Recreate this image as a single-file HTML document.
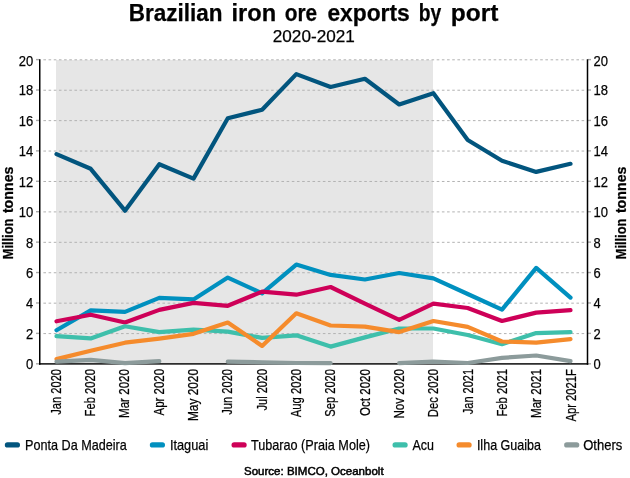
<!DOCTYPE html>
<html><head><meta charset="utf-8"><title>Brazilian iron ore exports by port</title>
<style>html,body{margin:0;padding:0;background:#fff}svg{display:block}text{font-family:"Liberation Sans", sans-serif;fill:#000;stroke:#000;stroke-width:0.25px}</style></head><body>
<svg width="630" height="478" viewBox="0 0 630 478">
<rect width="630" height="478" fill="#fff"/>
<rect x="56" y="60" width="377" height="303.8" fill="#e6e6e6"/>
<line x1="43.4" x2="586.8" y1="333.58" y2="333.58" stroke="#b2b2b2" stroke-width="1" stroke-dasharray="2.6,2.575"/>
<line x1="43.4" x2="586.8" y1="303.16" y2="303.16" stroke="#b2b2b2" stroke-width="1" stroke-dasharray="2.6,2.575"/>
<line x1="43.4" x2="586.8" y1="272.74" y2="272.74" stroke="#b2b2b2" stroke-width="1" stroke-dasharray="2.6,2.575"/>
<line x1="43.4" x2="586.8" y1="242.32" y2="242.32" stroke="#b2b2b2" stroke-width="1" stroke-dasharray="2.6,2.575"/>
<line x1="43.4" x2="586.8" y1="211.90" y2="211.90" stroke="#b2b2b2" stroke-width="1" stroke-dasharray="2.6,2.575"/>
<line x1="43.4" x2="586.8" y1="181.48" y2="181.48" stroke="#b2b2b2" stroke-width="1" stroke-dasharray="2.6,2.575"/>
<line x1="43.4" x2="586.8" y1="151.06" y2="151.06" stroke="#b2b2b2" stroke-width="1" stroke-dasharray="2.6,2.575"/>
<line x1="43.4" x2="586.8" y1="120.64" y2="120.64" stroke="#b2b2b2" stroke-width="1" stroke-dasharray="2.6,2.575"/>
<line x1="43.4" x2="586.8" y1="90.22" y2="90.22" stroke="#b2b2b2" stroke-width="1" stroke-dasharray="2.6,2.575"/>
<line x1="43.4" x2="586.8" y1="59.80" y2="59.80" stroke="#b2b2b2" stroke-width="1" stroke-dasharray="2.6,2.575"/>
<line x1="36" x2="39.2" y1="363.80" y2="363.80" stroke="#a8a8a8" stroke-width="1.4"/>
<line x1="588" x2="591" y1="363.80" y2="363.80" stroke="#a8a8a8" stroke-width="1.4"/>
<line x1="36" x2="39.2" y1="333.38" y2="333.38" stroke="#a8a8a8" stroke-width="1.4"/>
<line x1="588" x2="591" y1="333.38" y2="333.38" stroke="#a8a8a8" stroke-width="1.4"/>
<line x1="36" x2="39.2" y1="302.96" y2="302.96" stroke="#a8a8a8" stroke-width="1.4"/>
<line x1="588" x2="591" y1="302.96" y2="302.96" stroke="#a8a8a8" stroke-width="1.4"/>
<line x1="36" x2="39.2" y1="272.54" y2="272.54" stroke="#a8a8a8" stroke-width="1.4"/>
<line x1="588" x2="591" y1="272.54" y2="272.54" stroke="#a8a8a8" stroke-width="1.4"/>
<line x1="36" x2="39.2" y1="242.12" y2="242.12" stroke="#a8a8a8" stroke-width="1.4"/>
<line x1="588" x2="591" y1="242.12" y2="242.12" stroke="#a8a8a8" stroke-width="1.4"/>
<line x1="36" x2="39.2" y1="211.70" y2="211.70" stroke="#a8a8a8" stroke-width="1.4"/>
<line x1="588" x2="591" y1="211.70" y2="211.70" stroke="#a8a8a8" stroke-width="1.4"/>
<line x1="36" x2="39.2" y1="181.28" y2="181.28" stroke="#a8a8a8" stroke-width="1.4"/>
<line x1="588" x2="591" y1="181.28" y2="181.28" stroke="#a8a8a8" stroke-width="1.4"/>
<line x1="36" x2="39.2" y1="150.86" y2="150.86" stroke="#a8a8a8" stroke-width="1.4"/>
<line x1="588" x2="591" y1="150.86" y2="150.86" stroke="#a8a8a8" stroke-width="1.4"/>
<line x1="36" x2="39.2" y1="120.44" y2="120.44" stroke="#a8a8a8" stroke-width="1.4"/>
<line x1="588" x2="591" y1="120.44" y2="120.44" stroke="#a8a8a8" stroke-width="1.4"/>
<line x1="36" x2="39.2" y1="90.02" y2="90.02" stroke="#a8a8a8" stroke-width="1.4"/>
<line x1="588" x2="591" y1="90.02" y2="90.02" stroke="#a8a8a8" stroke-width="1.4"/>
<line x1="36" x2="39.2" y1="59.60" y2="59.60" stroke="#a8a8a8" stroke-width="1.4"/>
<line x1="588" x2="591" y1="59.60" y2="59.60" stroke="#a8a8a8" stroke-width="1.4"/>
<path d="M39 363.90 H588.25" fill="none" stroke="#2e2e2e" stroke-width="1.9"/>
<path d="M39.75 59.2 V364.70 M587.5 59.2 V364.70" fill="none" stroke="#000" stroke-width="1.5"/>
<path d="M56.5 154.1 L90.7 168.8 L125.0 210.7 L159.3 164.2 L193.5 178.6 L227.8 118.3 L262.1 109.7 L296.3 74.1 L330.6 87.0 L364.9 78.8 L399.2 104.5 L433.4 93.2 L467.7 140.0 L502.0 160.8 L536.2 171.9 L570.5 163.8" fill="none" stroke="#02557e" stroke-width="4.2" stroke-linejoin="round" stroke-linecap="round"/>
<path d="M56.5 330.2 L90.7 310.4 L125.0 311.9 L159.3 297.9 L193.5 299.4 L227.8 277.6 L262.1 293.3 L296.3 264.6 L330.6 274.9 L364.9 279.5 L399.2 273.0 L433.4 278.3 L467.7 294.0 L502.0 309.7 L536.2 267.9 L570.5 297.6" fill="none" stroke="#0090bf" stroke-width="4.2" stroke-linejoin="round" stroke-linecap="round"/>
<path d="M56.5 321.3 L90.7 314.7 L125.0 322.5 L159.3 309.9 L193.5 302.9 L227.8 305.8 L262.1 291.6 L296.3 294.7 L330.6 287.0 L364.9 303.7 L399.2 319.8 L433.4 303.7 L467.7 308.0 L502.0 321.0 L536.2 312.6 L570.5 310.2" fill="none" stroke="#ce0058" stroke-width="4.2" stroke-linejoin="round" stroke-linecap="round"/>
<path d="M56.5 336.2 L90.7 338.4 L125.0 326.3 L159.3 332.1 L193.5 329.7 L227.8 331.6 L262.1 337.9 L296.3 335.3 L330.6 346.6 L364.9 337.4 L399.2 328.5 L433.4 328.5 L467.7 335.0 L502.0 344.2 L536.2 333.1 L570.5 332.1" fill="none" stroke="#3ebfab" stroke-width="4.2" stroke-linejoin="round" stroke-linecap="round"/>
<path d="M56.5 359.1 L90.7 350.7 L125.0 342.7 L159.3 338.6 L193.5 333.8 L227.8 322.5 L262.1 345.9 L296.3 313.3 L330.6 325.5 L364.9 326.6 L399.2 332.1 L433.4 321.0 L467.7 326.9 L502.0 341.5 L536.2 342.7 L570.5 339.1" fill="none" stroke="#f58b2c" stroke-width="4.2" stroke-linejoin="round" stroke-linecap="round"/>
<path d="M56.5 361.6 L90.7 359.9 L125.0 363.2 L159.3 361.1 M227.8 361.6 L262.1 362.3 L296.3 363.0 L330.6 363.2 M399.2 363.2 L433.4 361.6 L467.7 363.0 L502.0 357.9 L536.2 355.5 L570.5 361.1" fill="none" stroke="#8c9b9b" stroke-width="4.2" stroke-linejoin="round" stroke-linecap="round"/>
<g opacity="0.999">
<text x="33.3" y="369.20" font-size="15.2" text-anchor="end" textLength="7.2" lengthAdjust="spacingAndGlyphs">0</text>
<text x="593.5" y="369.20" font-size="15.2" textLength="7.2" lengthAdjust="spacingAndGlyphs">0</text>
<text x="33.3" y="338.78" font-size="15.2" text-anchor="end" textLength="7.2" lengthAdjust="spacingAndGlyphs">2</text>
<text x="593.5" y="338.78" font-size="15.2" textLength="7.2" lengthAdjust="spacingAndGlyphs">2</text>
<text x="33.3" y="308.36" font-size="15.2" text-anchor="end" textLength="7.2" lengthAdjust="spacingAndGlyphs">4</text>
<text x="593.5" y="308.36" font-size="15.2" textLength="7.2" lengthAdjust="spacingAndGlyphs">4</text>
<text x="33.3" y="277.94" font-size="15.2" text-anchor="end" textLength="7.2" lengthAdjust="spacingAndGlyphs">6</text>
<text x="593.5" y="277.94" font-size="15.2" textLength="7.2" lengthAdjust="spacingAndGlyphs">6</text>
<text x="33.3" y="247.52" font-size="15.2" text-anchor="end" textLength="7.2" lengthAdjust="spacingAndGlyphs">8</text>
<text x="593.5" y="247.52" font-size="15.2" textLength="7.2" lengthAdjust="spacingAndGlyphs">8</text>
<text x="33.3" y="217.10" font-size="15.2" text-anchor="end" textLength="14.5" lengthAdjust="spacingAndGlyphs">10</text>
<text x="593.5" y="217.10" font-size="15.2" textLength="14.5" lengthAdjust="spacingAndGlyphs">10</text>
<text x="33.3" y="186.68" font-size="15.2" text-anchor="end" textLength="14.5" lengthAdjust="spacingAndGlyphs">12</text>
<text x="593.5" y="186.68" font-size="15.2" textLength="14.5" lengthAdjust="spacingAndGlyphs">12</text>
<text x="33.3" y="156.26" font-size="15.2" text-anchor="end" textLength="14.5" lengthAdjust="spacingAndGlyphs">14</text>
<text x="593.5" y="156.26" font-size="15.2" textLength="14.5" lengthAdjust="spacingAndGlyphs">14</text>
<text x="33.3" y="125.84" font-size="15.2" text-anchor="end" textLength="14.5" lengthAdjust="spacingAndGlyphs">16</text>
<text x="593.5" y="125.84" font-size="15.2" textLength="14.5" lengthAdjust="spacingAndGlyphs">16</text>
<text x="33.3" y="95.42" font-size="15.2" text-anchor="end" textLength="14.5" lengthAdjust="spacingAndGlyphs">18</text>
<text x="593.5" y="95.42" font-size="15.2" textLength="14.5" lengthAdjust="spacingAndGlyphs">18</text>
<text x="33.3" y="66.10" font-size="15.2" text-anchor="end" textLength="14.5" lengthAdjust="spacingAndGlyphs">20</text>
<text x="593.5" y="66.10" font-size="15.2" textLength="14.5" lengthAdjust="spacingAndGlyphs">20</text>
<text transform="translate(60.50 369) rotate(-90)" font-size="14" text-anchor="end" textLength="45.7" lengthAdjust="spacingAndGlyphs">Jan 2020</text>
<text transform="translate(94.85 369) rotate(-90)" font-size="14" text-anchor="end" textLength="47.4" lengthAdjust="spacingAndGlyphs">Feb 2020</text>
<text transform="translate(129.20 369) rotate(-90)" font-size="14" text-anchor="end" textLength="49" lengthAdjust="spacingAndGlyphs">Mar 2020</text>
<text transform="translate(163.55 369) rotate(-90)" font-size="14" text-anchor="end" textLength="46.4" lengthAdjust="spacingAndGlyphs">Apr 2020</text>
<text transform="translate(197.90 369) rotate(-90)" font-size="14" text-anchor="end" textLength="52" lengthAdjust="spacingAndGlyphs">May 2020</text>
<text transform="translate(232.25 369) rotate(-90)" font-size="14" text-anchor="end" textLength="45.7" lengthAdjust="spacingAndGlyphs">Jun 2020</text>
<text transform="translate(266.60 369) rotate(-90)" font-size="14" text-anchor="end" textLength="41.4" lengthAdjust="spacingAndGlyphs">Jul 2020</text>
<text transform="translate(300.95 369) rotate(-90)" font-size="14" text-anchor="end" textLength="48.2" lengthAdjust="spacingAndGlyphs">Aug 2020</text>
<text transform="translate(335.30 369) rotate(-90)" font-size="14" text-anchor="end" textLength="47.7" lengthAdjust="spacingAndGlyphs">Sep 2020</text>
<text transform="translate(369.65 369) rotate(-90)" font-size="14" text-anchor="end" textLength="47" lengthAdjust="spacingAndGlyphs">Oct 2020</text>
<text transform="translate(404.00 369) rotate(-90)" font-size="14" text-anchor="end" textLength="49.5" lengthAdjust="spacingAndGlyphs">Nov 2020</text>
<text transform="translate(438.35 369) rotate(-90)" font-size="14" text-anchor="end" textLength="48.2" lengthAdjust="spacingAndGlyphs">Dec 2020</text>
<text transform="translate(472.70 369) rotate(-90)" font-size="14" text-anchor="end" textLength="45.2" lengthAdjust="spacingAndGlyphs">Jan 2021</text>
<text transform="translate(507.05 369) rotate(-90)" font-size="14" text-anchor="end" textLength="47.5" lengthAdjust="spacingAndGlyphs">Feb 2021</text>
<text transform="translate(541.40 369) rotate(-90)" font-size="14" text-anchor="end" textLength="49" lengthAdjust="spacingAndGlyphs">Mar 2021</text>
<text transform="translate(575.75 369) rotate(-90)" font-size="14" text-anchor="end" textLength="52.6" lengthAdjust="spacingAndGlyphs">Apr 2021F</text>
<text transform="translate(12.8 259.3) rotate(-90)" font-size="15.3" font-weight="bold"><tspan x="0" textLength="40.6" lengthAdjust="spacingAndGlyphs">Million</tspan> <tspan x="46.2" textLength="46.6" lengthAdjust="spacingAndGlyphs">tonnes</tspan></text>
<text transform="translate(625.9 259.3) rotate(-90)" font-size="15.3" font-weight="bold"><tspan x="0" textLength="40.6" lengthAdjust="spacingAndGlyphs">Million</tspan> <tspan x="46.2" textLength="46.6" lengthAdjust="spacingAndGlyphs">tonnes</tspan></text>
<text y="20.8" font-size="23.7" font-weight="bold"><tspan x="128.7" textLength="93.8" lengthAdjust="spacingAndGlyphs">Brazilian</tspan> <tspan x="231.5" textLength="44.6" lengthAdjust="spacingAndGlyphs">iron</tspan> <tspan x="284.8" textLength="32.4" lengthAdjust="spacingAndGlyphs">ore</tspan> <tspan x="327.4" textLength="82.4" lengthAdjust="spacingAndGlyphs">exports</tspan> <tspan x="418.7" textLength="22.5" lengthAdjust="spacingAndGlyphs">by</tspan> <tspan x="450.8" textLength="47.6" lengthAdjust="spacingAndGlyphs">port</tspan></text>
<text x="272.8" y="42.2" font-size="16.2" textLength="82" lengthAdjust="spacingAndGlyphs">2020-2021</text>
<line x1="7.5" x2="17.3" y1="444.9" y2="444.9" stroke="#02557e" stroke-width="5.4" stroke-linecap="round"/>
<text x="25.0" y="449.6" font-size="15" textLength="101.8" lengthAdjust="spacingAndGlyphs">Ponta Da Madeira</text>
<line x1="152.5" x2="162.3" y1="444.9" y2="444.9" stroke="#0090bf" stroke-width="5.4" stroke-linecap="round"/>
<text x="169.9" y="449.6" font-size="15" textLength="38.4" lengthAdjust="spacingAndGlyphs">Itaguai</text>
<line x1="234.2" x2="244.0" y1="444.9" y2="444.9" stroke="#ce0058" stroke-width="5.4" stroke-linecap="round"/>
<text x="250.9" y="449.6" font-size="15" textLength="119.1" lengthAdjust="spacingAndGlyphs">Tubarao (Praia Mole)</text>
<line x1="395.2" x2="405.0" y1="444.9" y2="444.9" stroke="#3ebfab" stroke-width="5.4" stroke-linecap="round"/>
<text x="412.5" y="449.6" font-size="15" textLength="21.5" lengthAdjust="spacingAndGlyphs">Acu</text>
<line x1="459.2" x2="469.0" y1="444.9" y2="444.9" stroke="#f58b2c" stroke-width="5.4" stroke-linecap="round"/>
<text x="476.9" y="449.6" font-size="15" textLength="64.1" lengthAdjust="spacingAndGlyphs">Ilha Guaiba</text>
<line x1="566.8" x2="576.6" y1="444.9" y2="444.9" stroke="#8c9b9b" stroke-width="5.4" stroke-linecap="round"/>
<text x="583.2" y="449.6" font-size="15" textLength="39.099999999999994" lengthAdjust="spacingAndGlyphs">Others</text>
<text x="244" y="475.1" font-size="11" style="stroke-width:0.5px" textLength="139.6" lengthAdjust="spacingAndGlyphs">Source: BIMCO, Oceanbolt</text>
</g>
</svg></body></html>
